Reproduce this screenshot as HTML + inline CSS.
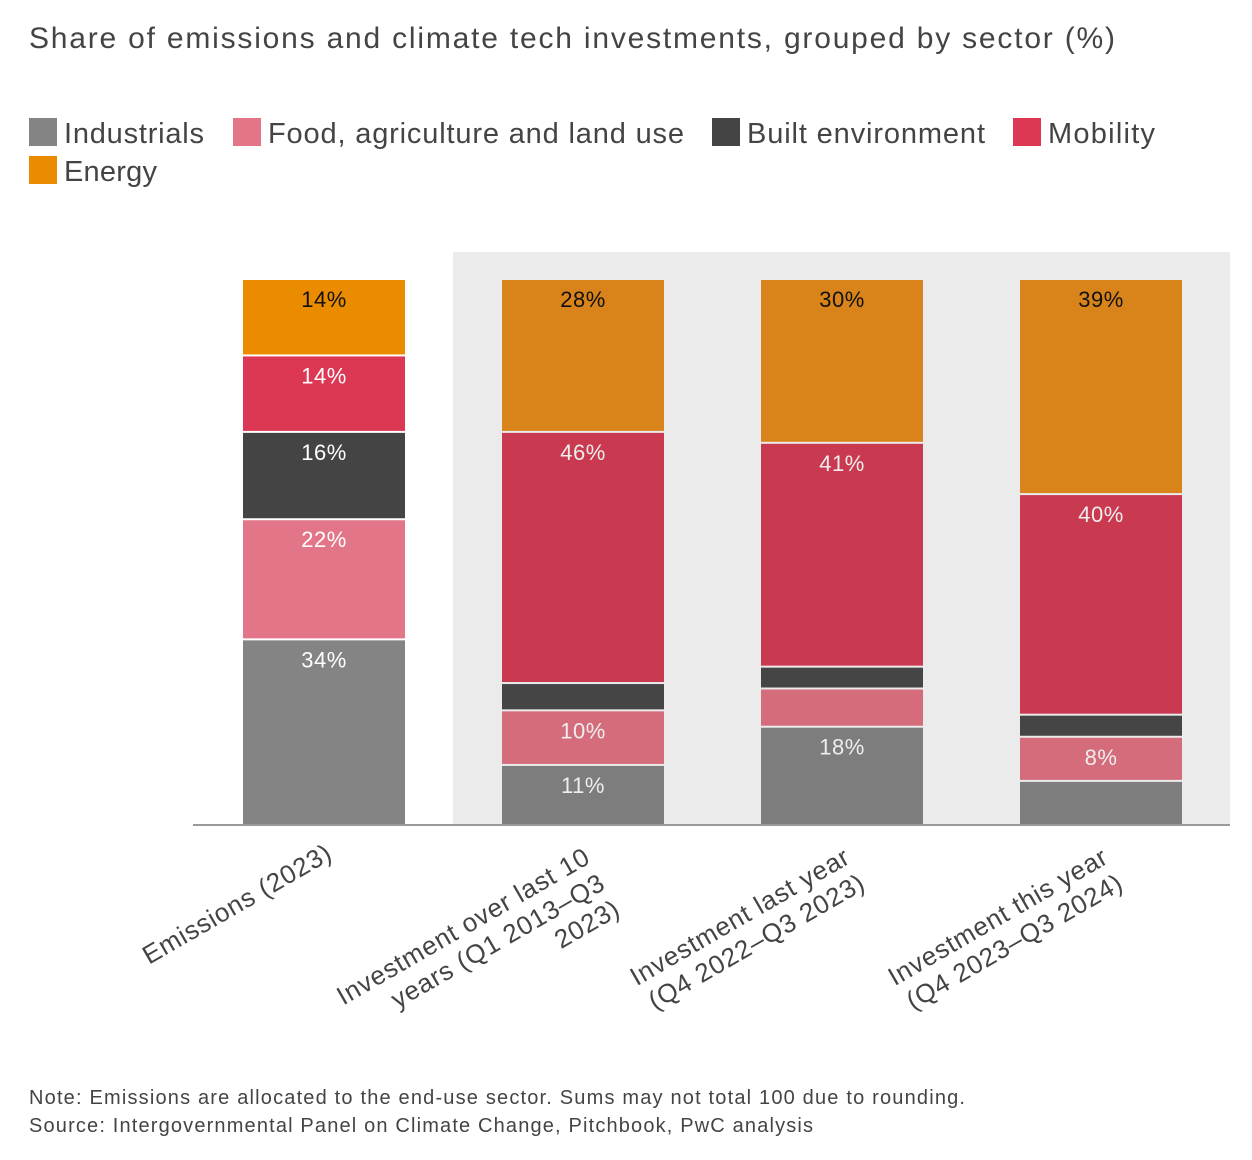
<!DOCTYPE html>
<html><head><meta charset="utf-8"><style>
body{margin:0;background:#fff;font-family:"Liberation Sans",Arial,sans-serif;}
svg{display:block}
</style></head><body>
<svg id="chart" width="1252" height="1160">
<text x="29" y="48" font-size="30" fill="#444" textLength="1086" lengthAdjust="spacing">Share of emissions and climate tech investments, grouped by sector (%)</text>
<g id="legend"></g>
<rect x="453" y="252" width="777" height="573" fill="#ebebeb"/>
<g id="bars"></g>
<line x1="193" y1="825" x2="1230" y2="825" stroke="#9a9a9a" stroke-width="2"/>
<g id="xlabels"></g>
<text x="29" y="1104" font-size="20" fill="#444" textLength="936" lengthAdjust="spacing">Note: Emissions are allocated to the end-use sector. Sums may not total 100 due to rounding.</text>
<text x="29" y="1132" font-size="20" fill="#444" textLength="784" lengthAdjust="spacing">Source: Intergovernmental Panel on Climate Change, Pitchbook, PwC analysis</text>
</svg>
<script>
const sectors=["Industrials","Food, agriculture and land use","Built environment","Mobility","Energy"];
const categories=[["Emissions (2023)"],["Investment over last 10","years (Q1 2013–Q3","2023)"],["Investment last year","(Q4 2022–Q3 2023)"],["Investment this year","(Q4 2023–Q3 2024)"]];
const industrials=[34,11,18,8];
const food=[22,10,7,8];
const built=[16,5,4,4];
const mobility=[14,46,41,40];
const energy=[14,28,30,39];
const showLabel=[[1,1,1,1,1],[1,1,0,1,1],[1,0,0,1,1],[0,1,0,1,1]];
const series=[industrials,food,built,mobility,energy];
const colors=["#848484","#e27587","#444444","#dc3753","#eb8c00"];
const mutedColors=["#7d7d7d","#d46c7c","#454545","#c93a50","#d8841a"];
const NS="http://www.w3.org/2000/svg";
const baseY=825, topY=279, x0=243, step=259, bw=162;
function el(t,a,p){const e=document.createElementNS(NS,t);for(const k in a)e.setAttribute(k,a[k]);p.appendChild(e);return e;}
const lg=document.getElementById('legend');
const lx=[29,233,712,1013,29], ly=[118,118,118,118,156], lw=[140,416,238,107,93];
sectors.forEach((s,i)=>{
 const r=el('rect',{x:lx[i],y:ly[i],width:28,height:28,fill:colors[i]},lg);
 
 
 const t=el('text',{x:lx[i]+35,y:ly[i]+25,'font-size':29,fill:'#444',textLength:lw[i],lengthAdjust:'spacing'},lg);
 t.textContent=s;
 
 
});
const bg=document.getElementById('bars');
categories.forEach((c,ci)=>{
 let total=0;series.forEach(s=>total+=s[ci]);
 const scale=(baseY-topY)/total;
 let y=baseY;
 series.forEach((s,si)=>{
  const h=s[ci]*scale;
  const pal=ci===0?colors:mutedColors;
  const r=el('rect',{x:x0+ci*step,y:y-h+1,width:bw,height:Math.max(h-2,0),fill:pal[si]},bg);
  
  
  if(showLabel[ci][si]){
   const t=el('text',{x:x0+ci*step+bw/2,y:y-h+28,'font-size':22,'letter-spacing':0.5,'text-anchor':'middle',fill:si===4?'#111':(ci===0?'#fff':'#eee')},bg);
   t.textContent=s[ci]+'%';
   
   
  }
  y-=h;
 });
});
const xg=document.getElementById('xlabels');
const ax=[334,592,852,1110], ay=[858,862,862,862];
categories.forEach((c,ci)=>{
 const t=el('text',{transform:`translate(${ax[ci]},${ay[ci]}) rotate(-30)`,'font-size':26,'letter-spacing':0.8,'text-anchor':'end',fill:'#444'},xg);
 
 
 c.forEach((l,li)=>{const ts=el('tspan',{x:0,y:li*30},t);ts.textContent=l;});
});
</script>
</body></html>
